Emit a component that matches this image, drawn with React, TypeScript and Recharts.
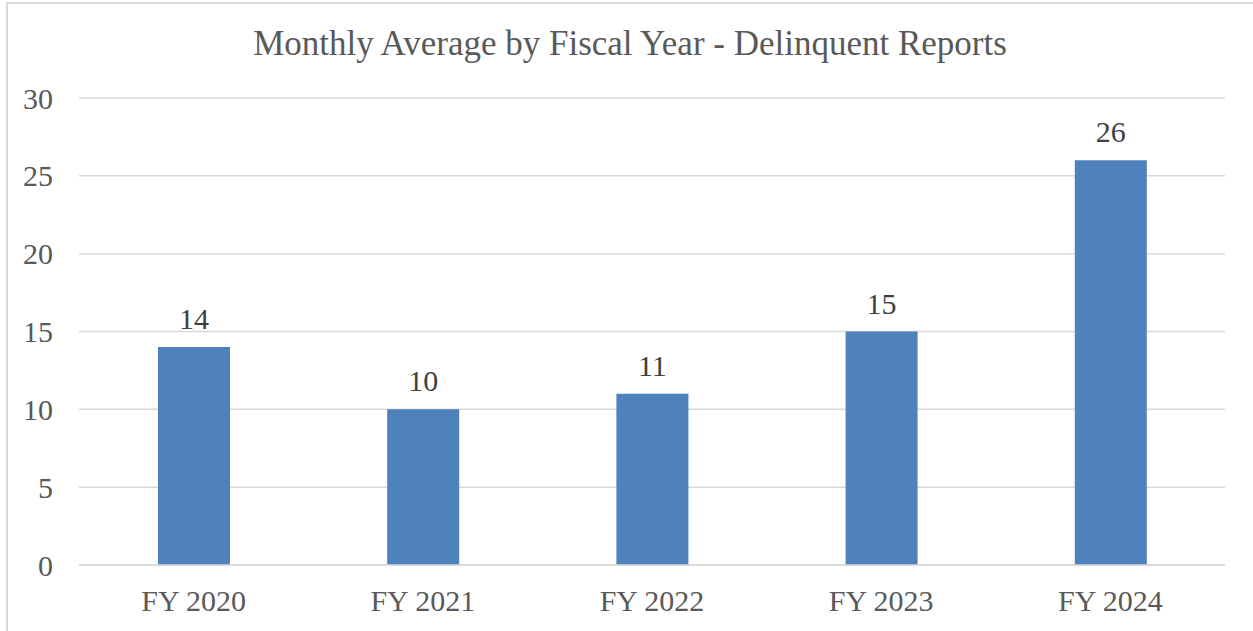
import React from 'react';
import { BarChart, Bar, XAxis, YAxis, CartesianGrid, LabelList } from 'recharts';

const fiscalYears = ['FY 2020', 'FY 2021', 'FY 2022', 'FY 2023', 'FY 2024'];
const monthlyAverage = [14, 10, 11, 15, 26];
const yTicks = [0, 5, 10, 15, 20, 25, 30];

const data = fiscalYears.map((year, i) => ({ year, value: monthlyAverage[i] }));

const FONT = '"Liberation Serif", "Times New Roman", serif';

const App: React.FC = () => {
  return (
    <div
      style={{
        position: 'absolute',
        left: 0,
        top: 0,
        width: 1253,
        height: 631,
        overflow: 'hidden',
        background: '#fff',
        fontFamily: FONT
      }}
    >
      <div
        style={{
          position: 'absolute',
          left: 6,
          top: 2,
          width: 1300,
          height: 700,
          border: '2px solid #D9D9D9',
          boxSizing: 'border-box'
        }}
      />
      <div
        style={{
          position: 'absolute',
          left: 0,
          top: 24,
          width: 1260,
          textAlign: 'center',
          fontSize: 35,
          color: '#595959'
        }}
      >
        Monthly Average by Fiscal Year - Delinquent Reports
      </div>
      <div style={{ position: 'absolute', left: 0, top: 0 }}>
        <BarChart
          width={1253}
          height={631}
          data={data}
          margin={{ top: 98, right: 28, left: 0, bottom: 0 }}
        >
          <CartesianGrid vertical={false} stroke="#D9D9D9" strokeWidth={1.5} />
          <XAxis
            dataKey="year"
            height={66}
            axisLine={{ stroke: '#D9D9D9', strokeWidth: 1.5 }}
            tickLine={false}
            tickSize={0}
            tickMargin={25}
            tick={{ fill: '#595959', fontSize: 30, fontFamily: FONT }}
          />
          <YAxis
            width={79}
            domain={[0, 30]}
            ticks={yTicks}
            axisLine={false}
            tickLine={false}
            tickSize={0}
            tickMargin={26}
            tick={{ fill: '#595959', fontSize: 30, fontFamily: FONT }}
          />
          <Bar dataKey="value" fill="#4F81BD" barSize={72} isAnimationActive={false}>
            <LabelList
              dataKey="value"
              position="top"
              offset={18}
              style={{ fill: '#404040', fontSize: 30, fontFamily: FONT }}
            />
          </Bar>
        </BarChart>
      </div>
    </div>
  );
};

export default App;
